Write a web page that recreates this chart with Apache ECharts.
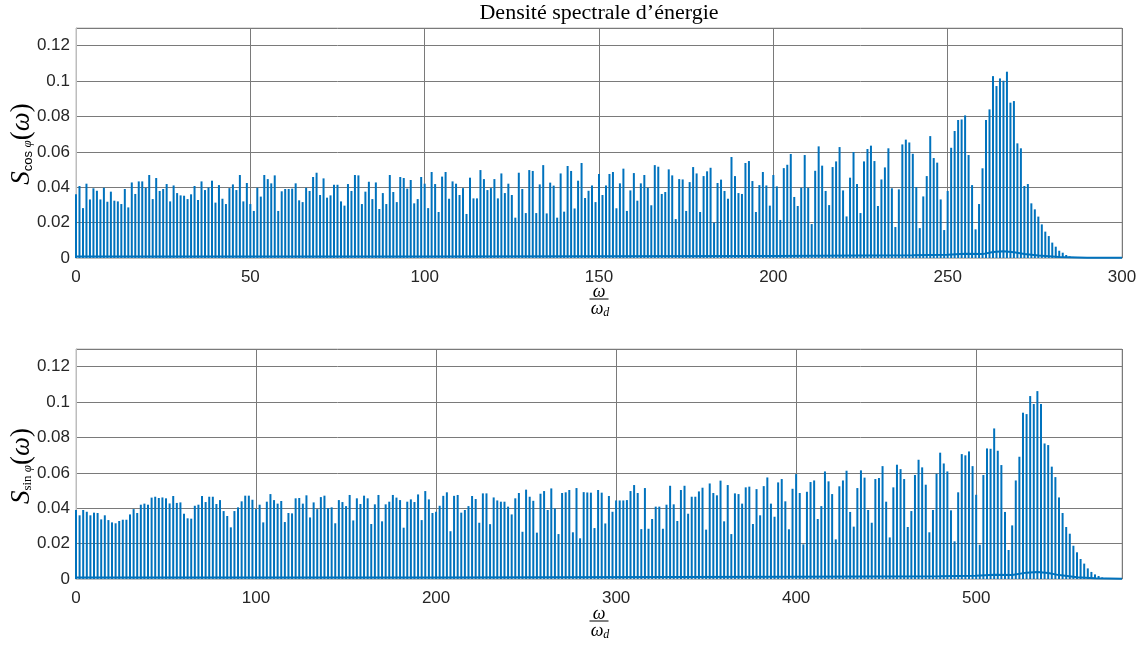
<!DOCTYPE html>
<html><head><meta charset="utf-8">
<script src="https://cdn.jsdelivr.net/npm/echarts@6/dist/echarts.min.js"></script>
<style>html,body{margin:0;padding:0;background:#fff}#c{width:1145px;height:645px}</style>
</head><body><div id="c"></div>
<script>
// ---- data ----
const titleText = 'Densité spectrale d’énergie';
const yTicks = [0, 0.02, 0.04, 0.06, 0.08, 0.1, 0.12];
const topXTicks = [0, 50, 100, 150, 200, 250, 300];
const bottomXTicks = [0, 100, 200, 300, 400, 500];
const topStart = 0, topStep = 1;      // harmonic spacing (omega/omega_d)
const bottomStart = 0, bottomStep = 2;
// top subplot: peak heights at x = 0,1,2,...
const topValues = [
0.036,0.0407,0.0282,0.042,0.0331,0.0394,0.038,0.0331,0.0397,0.0318,
0.0375,0.0324,0.032,0.0305,0.039,0.0286,0.0427,0.0362,0.0433,0.0433,
0.0397,0.0469,0.0333,0.0452,0.0379,0.039,0.0418,0.032,0.041,0.0367,
0.0354,0.0352,0.0333,0.036,0.0407,0.0328,0.0433,0.0384,0.0399,0.0437,
0.0313,0.0412,0.0335,0.0305,0.0395,0.0416,0.0384,0.0469,0.032,0.0424,
0.0305,0.0266,0.0397,0.0347,0.0469,0.0446,0.0422,0.0467,0.0266,0.0377,
0.039,0.039,0.0392,0.0422,0.0326,0.0316,0.0397,0.0379,0.0458,0.0482,
0.0356,0.045,0.0341,0.0354,0.0414,0.0414,0.032,0.0296,0.0418,0.0379,
0.0469,0.0467,0.0305,0.0375,0.0431,0.0333,0.0427,0.0277,0.0367,0.0305,
0.0469,0.0373,0.0316,0.0458,0.0452,0.0392,0.0441,0.0309,0.0333,0.0458,
0.042,0.0282,0.0486,0.0418,0.026,0.046,0.0486,0.0335,0.0433,0.042,
0.0356,0.0395,0.0249,0.0454,0.0337,0.0337,0.0497,0.0446,0.0384,0.0395,
0.0446,0.0337,0.0478,0.0367,0.042,0.0356,0.0228,0.0482,0.039,0.0254,
0.0497,0.0492,0.0254,0.0416,0.0525,0.0252,0.0426,0.0409,0.0228,0.0478,
0.0262,0.052,0.0492,0.028,0.0437,0.0537,0.0339,0.038,0.041,0.0316,
0.0475,0.0356,0.041,0.0475,0.0486,0.0281,0.0422,0.0505,0.0266,0.0382,
0.048,0.0324,0.0422,0.0469,0.0397,0.0298,0.0525,0.0516,0.0362,0.0373,
0.0501,0.0467,0.022,0.0446,0.0444,0.0266,0.0429,0.0514,0.0478,0.026,
0.0463,0.049,0.051,0.02,0.0424,0.0443,0.0379,0.0335,0.0571,0.0463,
0.0367,0.0362,0.0537,0.0548,0.0435,0.026,0.0412,0.0486,0.041,0.0296,
0.0469,
0.0405,0.0215,0.0508,0.0527,0.0588,0.0345,0.0294,0.0397,0.0582,0.0397,
0.0192,0.0493,0.0631,0.0522,0.0379,0.0299,0.0514,0.0546,0.0627,0.0382,
0.0235,0.0454,0.0599,0.0418,0.0254,0.0546,0.0616,0.0635,0.0548,
0.0294,0.0444,0.0512,0.062,0.0394,0.0175,0.0388,0.0642,0.0669,
0.0653,0.0589,0.0401,0.0169,0.0348,0.0463,0.0689,0.0565,0.0539,0.0331,
0.0158,0.0379,0.0623,0.0718,0.078,0.0783,0.0806,0.0582,0.0412,0.0162,
0.0305,0.0507,0.078,0.084,0.1028,0.0972,0.1015,0.1002,0.1053,0.0878,
0.0887,0.0648,0.062,0.0407,0.0418,0.0309,0.0275,0.0234,0.019,0.0149,
0.0124,0.0087,0.0064,0.0041,0.003,0.0017,0.0009,0.0006,0.0004,0.0003,
0.0002,0.0002,0.0002,0.0002,0.0002,0.0002,0.0002,0.0002,0.0002,0.0002,0.0002
];
// bottom subplot: peak heights at x = 0,2,4,...
const bottomValues = [
0.039,0.036,0.039,0.038,0.036,0.0375,0.0373,0.0337,0.036,0.0333,
0.032,0.0315,0.0328,0.0335,0.0335,0.0365,0.0395,0.0373,0.042,0.0426,
0.042,0.046,0.0465,0.0458,0.0461,0.0456,0.0427,0.0469,0.043,0.0433,
0.0369,0.0343,0.0341,0.0414,0.042,0.0469,0.0435,0.0465,0.0465,0.0424,
0.0446,0.0384,0.0356,0.0292,0.0384,0.0405,0.0439,0.0471,0.0471,0.0448,
0.0395,0.042,0.032,0.0437,0.048,0.0446,0.0426,0.0441,0.0322,0.0373,
0.0371,0.0456,0.0458,0.0426,0.0473,0.0348,0.0433,0.0395,0.0463,0.0471,
0.0401,0.0405,0.0315,0.0446,0.0435,0.0412,0.0475,0.0331,0.0456,0.0424,
0.0471,0.0456,0.0311,0.0422,0.0475,0.0326,0.0422,0.0437,0.0475,0.046,
0.0446,0.029,0.0437,0.045,0.0435,0.0478,0.0333,0.0497,0.045,0.0373,
0.038,0.0414,0.047,0.049,0.027,0.047,0.0475,0.0375,0.039,0.0412,
0.0469,0.0452,0.0318,0.0484,0.0484,0.031,0.0461,0.0444,0.0437,0.0437,
0.0409,0.0365,0.0456,0.0486,0.0267,0.0505,0.0465,0.0442,0.0262,0.0482,
0.0497,0.039,0.0512,0.0399,0.0254,0.0486,0.049,0.0503,0.0264,0.0514,
0.023,0.0491,0.0489,0.0488,0.0288,0.0503,0.0488,0.0314,0.0469,0.038,
0.0444,0.0444,0.0444,0.0446,0.0497,0.0531,0.0486,0.0282,0.0514,0.0284,
0.0339,0.0409,0.0409,0.0284,0.042,0.0527,0.0422,0.0328,0.0503,0.0527,
0.0369,0.0465,0.0465,0.0495,0.0516,0.0279,0.054,0.0486,0.0473,0.0556,
0.0326,0.0531,0.0254,0.0484,0.048,0.0426,0.0518,0.0522,0.0311,0.0508,
0.036,0.0525,0.0574,0.0426,0.0352,0.0546,0.0565,0.0439,0.0281,0.051,
0.0593,0.0486,0.0196,0.0493,0.0548,0.0557,0.0339,0.0412,0.0608,0.0552,
0.048,0.0224,0.0524,0.0557,0.0612,0.0379,0.0296,0.0514,0.0614,0.0573,
0.039,0.0318,0.0565,0.0571,0.0638,0.0437,0.0235,0.0518,0.0646,0.0621,
0.0565,0.0294,0.0384,0.0588,0.0674,0.0631,0.0533,0.0264,0.039,0.0595,
0.0714,0.0653,0.0608,0.0388,0.0213,0.049,0.0706,0.0699,0.0721,0.0638,
0.0476,0.0194,0.0588,0.0738,0.0736,0.0851,0.0725,0.0644,0.0379,0.0164,
0.0303,0.0557,0.0691,0.094,0.0932,0.1034,0.0989,0.1062,0.0989,0.0766,
0.0757,0.0635,0.0576,0.0461,0.0373,0.0294,0.0256,0.0188,0.0151,0.0113,
0.0087,0.006,0.004,0.0026,0.0017,0.0009,0.0006,0.0004,0.0002,0.0002,0.0001
];
// low-level background between the lines
const topFloorX = [0, 100, 200, 240, 250, 255, 260, 263, 266, 269, 272, 276, 282, 290, 300];
const topFloorY = [0.0008, 0.0009, 0.0012, 0.0016, 0.0018, 0.0024, 0.0022, 0.0034, 0.0038, 0.0033, 0.0022, 0.0014, 0.0006, 0.0002, 0.0002];
const bottomFloorX = [0, 200, 400, 480, 500, 510, 520, 528, 534, 540, 546, 556, 566, 581];
const bottomFloorY = [0.0008, 0.0009, 0.0013, 0.0016, 0.0018, 0.0024, 0.0022, 0.0036, 0.004, 0.0034, 0.0022, 0.001, 0.0004, 0.0002];

// ---- chart ----
const blue = '#0072BD';
const chart = echarts.init(document.getElementById('c'), null, {renderer: 'canvas'});
const gridTop = {left: 76, top: 28, width: 1046, height: 230};
const gridBot = {left: 76, top: 349, width: 1046, height: 230};
const fmtY = v => {
  const r = Math.round(v * 100);
  if (r % 2 !== 0 || v > 0.125) return '';
  return v === 0 ? '0' : String(parseFloat(v.toFixed(2)));
};
function xAxis(idx, max, interval) {
  return {
    type: 'value', gridIndex: idx, min: 0, max: max, interval: interval,
    axisLine: {show: true, lineStyle: {color: '#bdbdbd', width: 1}},
    axisTick: {show: false},
    axisLabel: {color: '#262626', fontSize: 17, fontFamily: 'Liberation Sans, Arial, sans-serif', margin: 11,
      showMaxLabel: max % interval === 0,
      formatter: v => (v % interval === 0 ? String(v) : '')},
    splitLine: {show: true, lineStyle: {color: '#7a7a7a', width: 1}}
  };
}
function yAxis(idx) {
  return {
    type: 'value', gridIndex: idx, min: 0, max: 0.13, interval: 0.02,
    axisLine: {show: true, lineStyle: {color: '#bdbdbd', width: 1}},
    axisTick: {show: false},
    axisLabel: {color: '#262626', fontSize: 17, fontFamily: 'Liberation Sans, Arial, sans-serif', margin: 6, formatter: fmtY, showMaxLabel: false},
    splitLine: {show: true, lineStyle: {color: '#7a7a7a', width: 1}}
  };
}
const ySub = (sub, subFont) => ({
  s: {fontFamily: 'Liberation Serif, serif', fontStyle: 'italic', fontSize: 27, fill: '#000'},
  sub: {fontFamily: subFont, fontSize: 13, fill: '#000', padding: [12, 0, 0, 0]},
  phi: {fontFamily: 'Liberation Serif, serif', fontStyle: 'italic', fontSize: 13, fill: '#000', padding: [12, 0, 0, 0]},
  p: {fontFamily: 'Liberation Serif, serif', fontSize: 27, fill: '#000'},
  w: {fontFamily: 'Liberation Serif, serif', fontStyle: 'italic', fontSize: 27, fill: '#000'}
});
function fraction(cx, yTop) {
  return {
    type: 'group', children: [
      {type: 'text', x: cx, y: yTop, style: {text: 'ω', font: 'italic 18px "Liberation Serif", serif', fill: '#000', align: 'center', verticalAlign: 'middle'}},
      {type: 'line', shape: {x1: cx - 9.5, y1: yTop + 7, x2: cx + 9.5, y2: yTop + 7}, style: {stroke: '#000', lineWidth: 1}},
      {type: 'text', x: cx + 1, y: yTop + 17, style: {text: '{w|ω}{d|d}', align: 'center', verticalAlign: 'middle',
        rich: {w: {font: 'italic 18px "Liberation Serif", serif', fill: '#000'}, d: {font: 'italic 12px "Liberation Serif", serif', fill: '#000', padding: [8, 0, 0, 0]}}}}
    ]
  };
}
function ylabel(cy, sub, subFont) {
  return {
    type: 'text', x: 22, y: cy, rotation: Math.PI / 2,
    style: {text: '{s|S}{sub|' + sub + '}{phi|φ}{p|(}{w|ω}{p|)}', align: 'center', verticalAlign: 'middle', rich: ySub(sub, subFont)}
  };
}
const option = {
  animation: false,
  backgroundColor: '#fff',
  grid: [
    Object.assign({show: true, borderColor: '#bdbdbd', borderWidth: 1, backgroundColor: 'transparent'}, gridTop),
    Object.assign({show: true, borderColor: '#bdbdbd', borderWidth: 1, backgroundColor: 'transparent'}, gridBot)
  ],
  xAxis: [xAxis(0, 300, 50), xAxis(1, 581, 100)],
  yAxis: [yAxis(0), yAxis(1)],
  series: [
    {type: 'bar', xAxisIndex: 0, yAxisIndex: 0, barWidth: 2, itemStyle: {color: blue},
      data: topValues.map((v, i) => [topStart + i * topStep, v])},
    {type: 'line', xAxisIndex: 0, yAxisIndex: 0, showSymbol: false, lineStyle: {color: blue, width: 2},
      data: topFloorX.map((x, i) => [x, topFloorY[i]])},
    {type: 'bar', xAxisIndex: 1, yAxisIndex: 1, barWidth: 2, itemStyle: {color: blue},
      data: bottomValues.map((v, i) => [bottomStart + i * bottomStep, v])},
    {type: 'line', xAxisIndex: 1, yAxisIndex: 1, showSymbol: false, lineStyle: {color: blue, width: 2},
      data: bottomFloorX.map((x, i) => [x, bottomFloorY[i]])}
  ],
  graphic: [
    {type: 'text', x: 599, y: 13, style: {text: titleText, font: '22px "Liberation Serif", serif', fill: '#000', align: 'center', verticalAlign: 'middle'}},
    fraction(599, 292),
    fraction(599, 614),
    ylabel(144, 'cos ', 'Liberation Sans, sans-serif'),
    ylabel(466, 'sin ', 'Liberation Serif, serif')
  ]
};
chart.setOption(option);
</script></body></html>
